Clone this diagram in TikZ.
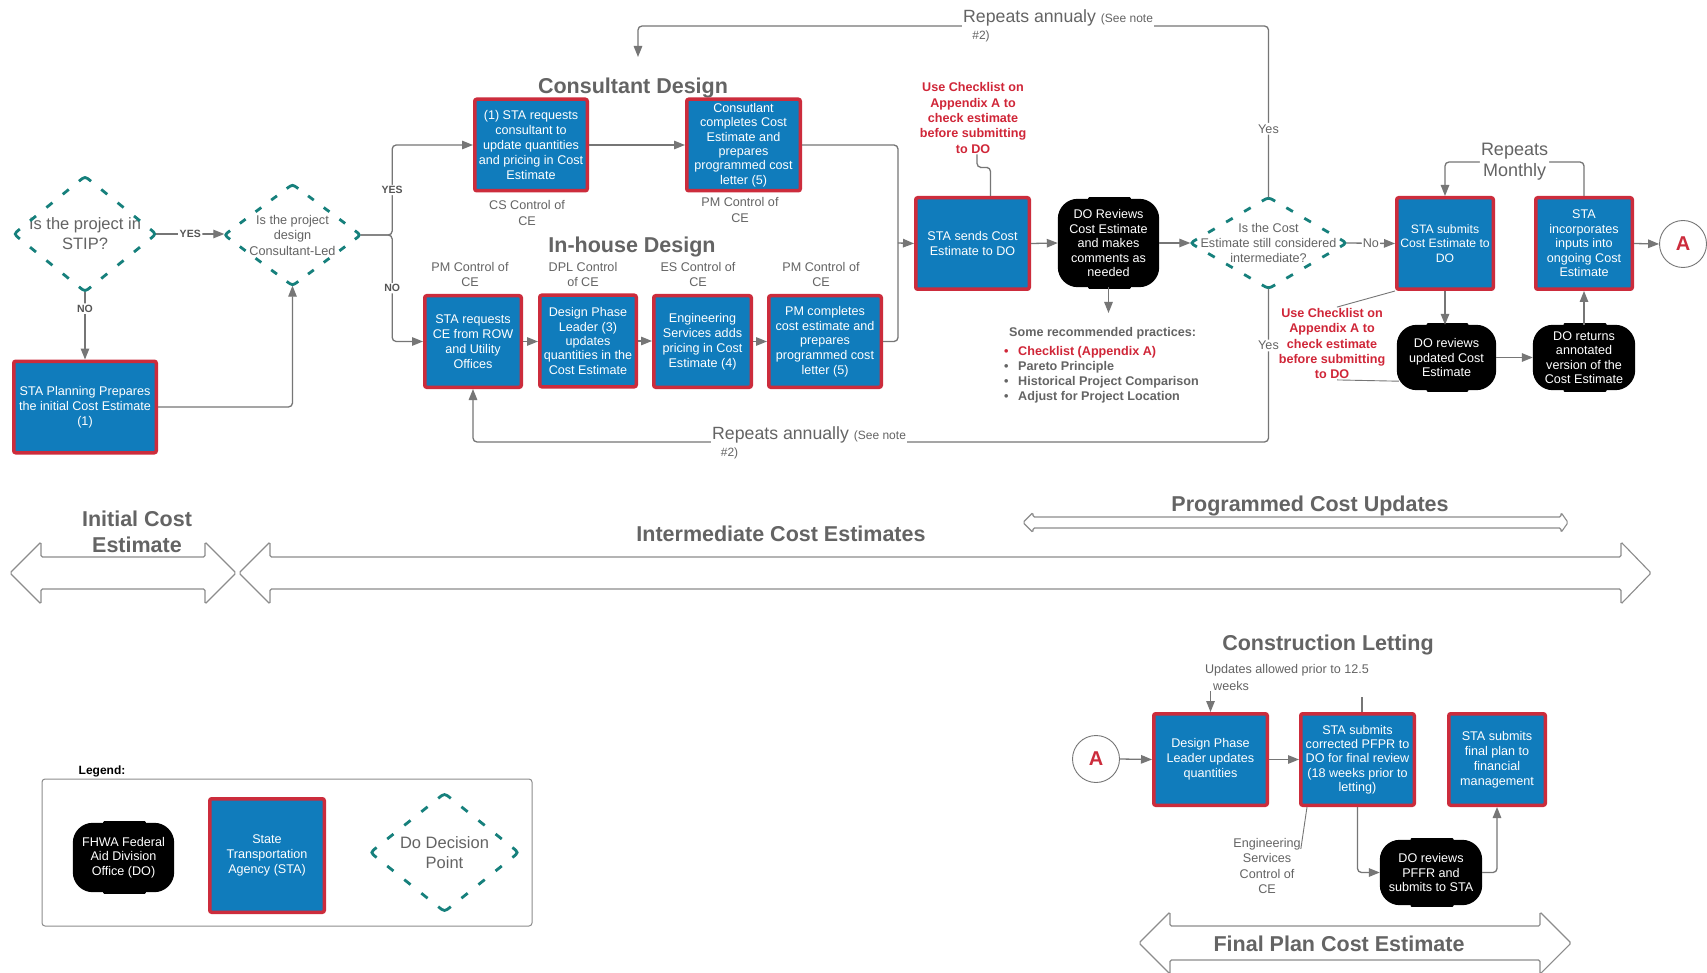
\documentclass[tikz,border=0pt]{standalone}
\usepackage{fontspec}
\setmainfont{Liberation Sans}
\usetikzlibrary{arrows.meta,calc}

\definecolor{stablue}{RGB}{16,124,188}
\definecolor{stared}{RGB}{204,44,60}
\definecolor{dteal}{RGB}{22,128,124}
\definecolor{txtgray}{RGB}{100,100,100}
\definecolor{lngray}{RGB}{118,118,118}
\definecolor{notered}{RGB}{208,38,56}
\definecolor{bandgray}{RGB}{140,140,140}

\pgfdeclarelayer{background}
\pgfsetlayers{background,main}

\newcommand\fsz[2]{\fontsize{#1}{#2}\selectfont}

% dashed decision outline around a rectangular node: solid arcs at the
% four vertices, three short dashes along every side
\newcommand\decodiamond[1]{%
  \foreach \vx/\px/\qx in {north/west/east, east/north/south, south/east/west, west/south/north}
    \draw[dashline] ($(#1.\vx)!0.085!(#1.\px)$) .. controls (#1.\vx) .. ($(#1.\vx)!0.085!(#1.\qx)$);
  \foreach \px/\qx in {west/north, north/east, east/south, south/west}
    \foreach \fa/\fb in {0.228/0.312, 0.458/0.542, 0.688/0.772}
      \draw[dashline] ($(#1.\px)!\fa!(#1.\qx)$) -- ($(#1.\px)!\fb!(#1.\qx)$);
}

% black division-office blob behind a node: rounded body with a raised middle tab
\newcommand\blobbg[1]{%
  \begin{pgfonlayer}{background}
    \fill[black, rounded corners=20pt] (#1.north west) rectangle (#1.south east);
    \fill[black, rounded corners=1pt] ($(#1.north west)!0.3!(#1.north east)+(0,-1.6)$)
      rectangle ($(#1.south west)!0.72!(#1.south east)+(0,1.6)$);
  \end{pgfonlayer}}

% hollow double-headed band: tips x0,x3; joints x1,x2; centre c; shaft s; head h
\newcommand\dblarrow[7]{%
  \draw[band] (#1,#5) -- (#2,{#5-#7}) -- (#2,{#5-#6}) -- (#3,{#5-#6}) -- (#3,{#5-#7})
    -- (#4,#5) -- (#3,{#5+#7}) -- (#3,{#5+#6}) -- (#2,{#5+#6}) -- (#2,{#5+#7}) -- cycle;}

\begin{document}
\begin{tikzpicture}[x=1pt,y=-1pt,
  sta/.style={rectangle, fill=stablue, draw=stared, line width=3.5pt, rounded corners=2pt,
    text=white, align=center, inner sep=0pt, font=\fsz{12.6}{15}, minimum height=91.5pt},
  doblob/.style={rectangle, text=white, align=center, inner sep=0pt, font=\fsz{12.6}{14.5}},
  dec/.style={rectangle, inner sep=0pt, align=center, text=txtgray},
  dashline/.style={draw=dteal, line width=2.8pt},
  lbl/.style={fill=white, inner sep=1.5pt, text=txtgray, font=\fsz{12.6}{15}},
  caps/.style={fill=white, inner sep=1.5pt, text=txtgray!85!black, font=\bfseries\fsz{10.5}{12}},
  title/.style={font=\bfseries\fsz{21.5}{26}, text=txtgray, align=center},
  ctl/.style={font=\fsz{12.6}{15.5}, text=txtgray, align=center, inner sep=1pt},
  note/.style={font=\bfseries\fsz{12.6}{15.3}, text=notered, align=center, inner sep=1pt},
  item/.style={font=\bfseries\fsz{12.6}{15}, text=txtgray, anchor=west, inner sep=0pt},
  rep/.style={fill=white, inner xsep=1pt, inner ysep=4pt, text=txtgray},
  conn/.style={draw=lngray, line width=1.3pt, rounded corners=4pt},
  arr/.style={conn, -{Triangle[length=11pt,width=8.5pt]}},
  thinline/.style={draw=lngray, line width=0.9pt},
  band/.style={draw=bandgray, line width=1.1pt, fill=white, rounded corners=1.5pt},
  circ/.style={circle, draw=lngray, line width=0.9pt, minimum size=47pt, inner sep=0pt,
    text=stared, font=\bfseries\fsz{20}{24}}
]
\begin{pgfonlayer}{background}
  \fill[white] (0,0) rectangle (1707,973);
\end{pgfonlayer}
\clip (0,0) rectangle (1707,973);

% ---------- phase bands ----------
\dblarrow{10}{41}{205}{236}{573}{16}{31}
\dblarrow{239}{270}{1621}{1651}{573}{16}{31}
\dblarrow{1023}{1033}{1561}{1568}{522.5}{5.5}{10}
\dblarrow{1139}{1170}{1540}{1571}{943}{17}{31}

\node[title] (tInit) at (137,532) {Initial Cost\\Estimate};
\node[title] (tInter) at (781,534) {Intermediate Cost Estimates};
\node[title] (tProg) at (1310,506) {Programmed Cost Updates};
\node[title] (tFinal) at (1339,944) {Final Plan Cost Estimate};

% ---------- section titles ----------
\node[title] (tCons) at (633,88) {Consultant Design};
\node[title] (tIn) at (632,247) {In-house Design};
\node[title] (tLet) at (1328,645) {Construction Letting};

% ---------- decisions ----------
\node[dec, minimum width=142, minimum height=115, font=\fsz{16.5}{20}] (d1) at (85,234) {Is the project in\\STIP?};
\node[dec, minimum width=136, minimum height=101, font=\fsz{12.7}{15.5}] (d2) at (292.5,235) {Is the project\\design\\Consultant-Led};
\node[dec, minimum width=156, minimum height=91, font=\fsz{12.6}{15.3}] (d3) at (1268.5,243) {Is the Cost\\Estimate still considered\\intermediate?};
\decodiamond{d1}
\decodiamond{d2}
\decodiamond{d3}

% ---------- agency steps ----------
\node[sta, minimum width=142.5] (P0) at (85,407) {STA Planning Prepares\\the initial Cost Estimate\\(1)};
\node[sta, minimum width=112.5] (C1) at (531,145) {(1) STA requests\\consultant to\\update quantities\\and pricing in Cost\\Estimate};
\node[sta, minimum width=113.5, font=\fsz{12.6}{14.3}] (C2) at (743.5,145) {Consutlant\\completes Cost\\Estimate and\\prepares\\programmed cost\\letter (5)};
\node[sta, minimum width=96.5] (H1) at (473,341.5) {STA requests\\CE from ROW\\and Utility\\Offices};
\node[sta, minimum width=96.5, font=\fsz{12.6}{14.3}] (H2) at (588,341) {Design Phase\\Leader (3)\\updates\\quantities in the\\Cost Estimate};
\node[sta, minimum width=97.5] (H3) at (702.5,341.5) {Engineering\\Services adds\\pricing in Cost\\Estimate (4)};
\node[sta, minimum width=112.5, font=\fsz{12.6}{14.7}] (H4) at (825,341.5) {PM completes\\cost estimate and\\prepares\\programmed cost\\letter (5)};
\node[sta, minimum width=113.5] (S1) at (972.5,243.5) {STA sends Cost\\Estimate to DO};
\node[sta, minimum width=96.5, font=\fsz{12.2}{14.5}] (R1) at (1445,243.5) {STA submits\\Cost Estimate to\\DO};
\node[sta, minimum width=96.5, font=\fsz{12.6}{14.5}] (R2) at (1584,243.5) {STA\\incorporates\\inputs into\\ongoing Cost\\Estimate};
\node[sta, minimum width=113.5] (L1) at (1210.5,759.5) {Design Phase\\Leader updates\\quantities};
\node[sta, minimum width=113.5, font=\fsz{12.6}{14.3}] (L2) at (1357.5,759.5) {STA submits\\corrected PFPR to\\DO for final review\\(18 weeks prior to\\letting)};
\node[sta, minimum width=96.5] (L3) at (1497,759.5) {STA submits\\final plan to\\financial\\management};

% ---------- division office steps ----------
\node[doblob, minimum width=101, minimum height=88] (D1) at (1108.5,243) {DO Reviews\\Cost Estimate\\and makes\\comments as\\needed};
\node[doblob, minimum width=99, minimum height=65] (D2) at (1446.5,357.5) {DO reviews\\updated Cost\\Estimate};
\node[doblob, minimum width=102, minimum height=65] (D3) at (1584,357.5) {DO returns\\annotated\\version of the\\Cost Estimate};
\node[doblob, minimum width=102, minimum height=65] (D4) at (1431,872.5) {DO reviews\\PFFR and\\submits to STA};
\blobbg{D1}
\blobbg{D2}
\blobbg{D3}
\blobbg{D4}

% ---------- off-page connectors ----------
\node[circ] (A1) at (1683,244) {A};
\node[circ] (A2) at (1096,759) {A};

% ---------- control labels ----------
\node[ctl] (cs1) at (527,213) {CS Control of\\CE};
\node[ctl] (pm1) at (740,210) {PM Control of\\CE};
\node[ctl] (pm2) at (470,274.5) {PM Control of\\CE};
\node[ctl] (dpl) at (583,274.5) {DPL Control\\of CE};
\node[ctl] (es1) at (698,274.5) {ES Control of\\CE};
\node[ctl] (pm3) at (821,274.5) {PM Control of\\CE};
\node[ctl] (es2) at (1267,866) {Engineering\\Services\\Control of\\CE};
\node[ctl] (upd1) at (1287,670) {Updates allowed prior to 12.5};
\node[ctl] (upd2) at (1231,685.5) {weeks};

% ---------- notes ----------
\node[note] (n1) at (973,118) {Use Checklist on\\Appendix A to\\check estimate\\before submitting\\to DO};
\node[note] (n2) at (1332,343.5) {Use Checklist on\\Appendix A to\\check estimate\\before submitting\\to DO};

\node[item] (prac) at (1009,333) {Some recommended practices:};
\node[item, text=notered] (p1) at (1004,352) {\makebox[14pt][l]{•}Checklist (Appendix A)};
\node[item] (p2) at (1004,367) {\makebox[14pt][l]{•}Pareto Principle};
\node[item] (p3) at (1004,382) {\makebox[14pt][l]{•}Historical Project Comparison};
\node[item] (p4) at (1004,397) {\makebox[14pt][l]{•}Adjust for Project Location};

% ---------- connectors: initial estimate ----------
\draw[arr] (d1.east) -- node[caps]{YES} (d1.east -| d2.west);
\draw[arr] (d1.south) -- node[caps, pos=0.25]{NO} (P0.north);
\draw[arr] (P0.east) -| (d2.south);
\draw[arr] (d2.east) -- ++(31.5,0) |- node[caps, pos=0.25]{YES} (C1.west);
\draw[arr] (d2.east) -- ++(31.5,0) |- node[caps, pos=0.25]{NO} (H1.west);

% ---------- connectors: design paths ----------
\draw[arr] (C1.east) -- (C2.west);
\draw[arr] (H1.east) -- (H1.east -| H2.west);
\draw[arr] (H2.east) -- (H2.east -| H3.west);
\draw[arr] (H3.east) -- (H4.west);
\coordinate (jn) at (898,243);
\draw[conn] (C2.east) -| (jn);
\draw[conn] (H4.east) -| (jn);
\draw[arr] (jn) -- (S1.west);

% ---------- connectors: review ----------
\draw[conn] ([xshift=4pt]n1.south) |- ++(7,13) -| ([xshift=18pt]S1.north);
\draw[arr] (S1.east) -- (D1.west);
\draw[arr] (D1.east) -- (d3.west);
\coordinate (dtip) at (1108.5,313);
\draw[arr] (D1.south) -- (dtip);
\draw[arr] (d3.east) -- node[lbl, inner sep=1pt]{No} (R1.west);

\coordinate (tl) at (638,26);
\coordinate (tend) at (638,57);
\draw[arr] (d3.north) |- node[lbl, pos=0.2]{Yes} (tl) -- (tend);
\node[rep, anchor=base west, font=\fsz{17.7}{20}] (rep1) at (962,22.5) {Repeats annualy \fsz{12}{14}(See note};
\node[text=txtgray, font=\fsz{12}{14}, inner sep=0pt] (rep1b) at (981,36) {\#2)};

\coordinate (bl) at (473,442);
\draw[arr] (d3.south) |- node[lbl, pos=0.185]{Yes} (bl) -- (H1.south);
\node[rep, anchor=base west, font=\fsz{17.7}{20}] (rep2) at (711,439) {Repeats annually \fsz{12}{14}(See note};
\node[text=txtgray, font=\fsz{12}{14}, inner sep=0pt] (rep2b) at (729.5,453) {\#2)};

% ---------- connectors: programmed updates ----------
\draw[arr] (R1.south) -- (R1.south |- D2.north);
\draw[arr] (D2.east) -- (D3.west);
\draw[arr] (D3.north) -- (D3.north |- R2.south);
\coordinate (ml) at (1445,162);
\draw[arr] (R2.north) |- node[pos=0.75, fill=white, inner sep=1pt, text=txtgray, align=center, font=\fsz{18}{21}]{Repeats\\Monthly} (ml) -- (R1.north);
\draw[thinline] ([xshift=5pt]n2.north) -- (R1.south west);
\draw[thinline] ([xshift=5pt]n2.south) -- ($(D2.south west)+(2,-9)$);
\draw[arr] (R2.east) -- (A1.west);

% ---------- connectors: construction letting ----------
\draw[arr] (A2.east) -- (L1.west);
\draw[arr] (L1.east) -- (L2.west);
\draw[arr] (L1.north |- upd2.south) -- (L1.north);
\coordinate (stub) at (1362,697);
\draw[conn] (stub) -- (stub |- L2.north);
\draw[thinline] ([xshift=8pt]L2.south west) -- ($(es2.north east)+(-1,12)$);
\draw[arr] (L2.south) |- (D4.west);
\draw[arr] (D4.east) -| (L3.south);

% ---------- legend ----------
\node[font=\bfseries\fsz{12}{14}, text=black, inner sep=0pt] (legT) at (102,771) {Legend:};
\node[draw=bandgray, line width=1pt, rounded corners=3pt, minimum width=490, minimum height=147, inner sep=0pt] (legbox) at (287,852.5) {};
\node[doblob, minimum width=101, minimum height=69] (DL) at (123.5,857.5) {FHWA Federal\\Aid Division\\Office (DO)};
\blobbg{DL}
\node[sta, minimum width=114.5, minimum height=113.5] (LS) at (267,855.5) {State\\Transportation\\Agency (STA)};
\node[dec, minimum width=148, minimum height=118, font=\fsz{16.5}{19.5}] (dL) at (444.5,852.5) {Do Decision\\Point};
\decodiamond{dL}
\end{tikzpicture}
\end{document}
